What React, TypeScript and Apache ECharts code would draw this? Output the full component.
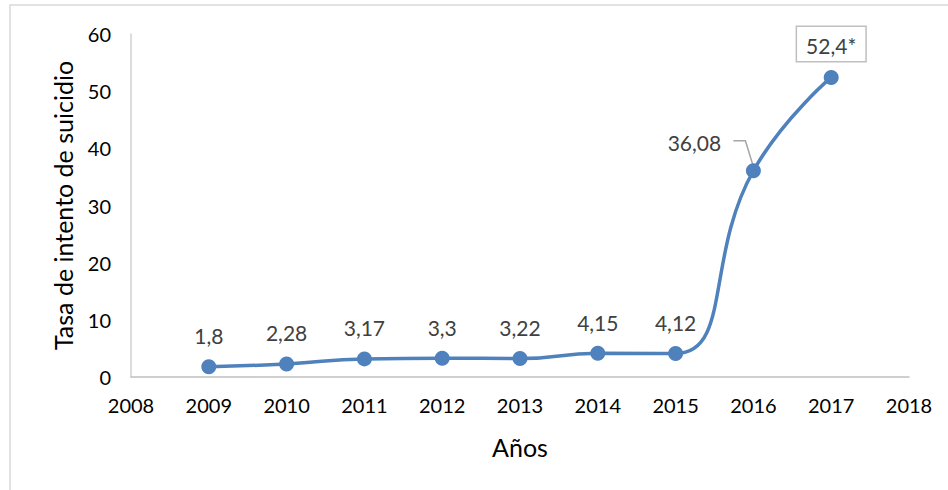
import React, { useEffect, useRef } from "react";
import * as echarts from "echarts";

const years = [2009, 2010, 2011, 2012, 2013, 2014, 2015, 2016, 2017];
const rates = [1.8, 2.28, 3.17, 3.3, 3.22, 4.15, 4.12, 36.08, 52.4];
const labelSuffix = ["", "", "", "", "", "", "", "", "*"];
const xAxisTitle = "Años";
const yAxisTitle = "Tasa de intento de suicidio";

const FONT = "Lato";

export default function App() {
  const ref = useRef<HTMLDivElement>(null);
  useEffect(() => {
    if (!ref.current) return;
    const chart = echarts.init(ref.current, undefined, { renderer: "svg" });
    const fmt = (v: number, i: number) => String(v).replace(".", ",") + labelSuffix[i];
    const data = years.map((y, i) => {
      const item: any = { value: [y, rates[i]] };
      if (i === 7) {
        item.label = {
          position: "inside",
          offset: [-59, -28],
        };
      }
      if (i === 8) {
        item.label = {
          position: "top",
          distance: 9,
          borderColor: "#bfbfbf",
          borderWidth: 1.5,
          padding: [8, 9, 5, 9],
          backgroundColor: "#fff",
        };
      }
      return item;
    });
    chart.setOption({
      animation: false,
      backgroundColor: "#fff",
      textStyle: { fontFamily: FONT },
      graphic: [
        {
          type: "rect",
          shape: { x: 10, y: 5, width: 960, height: 520 },
          style: { fill: "none", stroke: "#d9d9d9", lineWidth: 1.5 },
          silent: true,
          z: -1,
        },
      ],
      grid: { left: 131, right: 39, top: 34, bottom: 113, containLabel: false },
      xAxis: {
        type: "value",
        min: 2008,
        max: 2018,
        interval: 1,
        name: xAxisTitle,
        nameLocation: "middle",
        nameGap: 57,
        nameTextStyle: { color: "#000", fontSize: 25, fontFamily: FONT },
        axisLine: { show: true, lineStyle: { color: "#c0c0c0", width: 1.5 } },
        axisTick: { show: false },
        splitLine: { show: false },
        axisLabel: {
          color: "#000",
          fontSize: 20,
          fontFamily: FONT,
          margin: 18,
          formatter: (v: number) => String(v),
        },
      },
      yAxis: {
        type: "value",
        min: 0,
        max: 60,
        interval: 10,
        name: yAxisTitle,
        nameLocation: "middle",
        nameGap: 56,
        nameTextStyle: { color: "#000", fontSize: 25, fontFamily: FONT },
        axisLine: { show: true, lineStyle: { color: "#d0d0d0", width: 1.5 } },
        axisTick: { show: false },
        splitLine: { show: false },
        axisLabel: { color: "#000", fontSize: 20, fontFamily: FONT, margin: 20 },
      },
      series: [
        {
          type: "line",
          data,
          smooth: 0.5,
          symbol: "circle",
          symbolSize: 15,
          lineStyle: { color: "#4F81BD", width: 3.5 },
          itemStyle: { color: "#4F81BD" },
          label: {
            show: true,
            position: "top",
            distance: 13,
            color: "#404040",
            fontSize: 21,
            fontFamily: FONT,
            formatter: (p: any) => fmt(rates[p.dataIndex], p.dataIndex),
          },
        },
      ],
    });
    // leader line for the 2016 label, anchored via the chart's own scales
    const pt = chart.convertToPixel({ gridIndex: 0 }, [years[7], rates[7]]) as number[];
    chart.setOption({
      graphic: [
        {
          type: "rect",
          shape: { x: 10, y: 5, width: 960, height: 520 },
          style: { fill: "none", stroke: "#d9d9d9", lineWidth: 1.5 },
          silent: true,
          z: -1,
        },
        {
          type: "polyline",
          shape: {
            points: [
              [pt[0] - 20, pt[1] - 30],
              [pt[0] - 8, pt[1] - 30],
              [pt[0], pt[1] - 4],
            ],
          },
          style: { fill: "none", stroke: "#a6a6a6", lineWidth: 1.5 },
          silent: true,
          z: 1,
        },
      ],
    });
    return () => chart.dispose();
  }, []);
  return (
    <div
      ref={ref}
      style={{ position: "fixed", left: 0, top: 0, width: 948, height: 490 }}
    />
  );
}
